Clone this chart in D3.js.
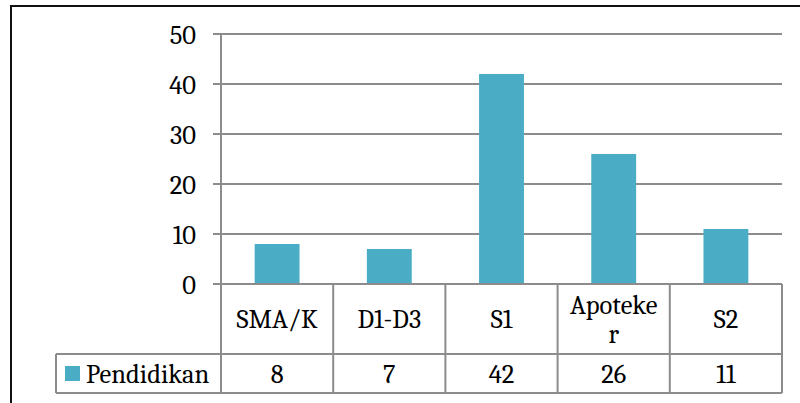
<!DOCTYPE html>
<html>
<head>
<meta charset="utf-8">
<script src="https://cdn.jsdelivr.net/npm/d3@7"></script>
<style>
  html, body { margin: 0; padding: 0; background: #fff; }
  svg { display: block; }
</style>
</head>
<body>
<svg id="chart" width="800" height="403"></svg>
<script>
// Education level of respondents
const categories = ["SMA/K", "D1-D3", "S1", "Apoteker", "S2"];
const categoryLines = [["SMA/K"], ["D1-D3"], ["S1"], ["Apoteke", "r"], ["S2"]];
const seriesName = "Pendidikan";
const values = [8, 7, 42, 26, 11];
const yTicks = [0, 10, 20, 30, 40, 50];

const W = 800, H = 403;
const plot = { left: 221, right: 782, top: 34, bottom: 284 };
const rowCat = { top: 284, bottom: 354 };
const rowVal = { top: 354, bottom: 393 };
const legendLeft = 56;
const barColor = "#4BACC6";
const lineColor = "#8c8c8c";
const fontFamily = "Cambria, 'Liberation Serif', serif";
const fontSize = 26.5;

const svg = d3.select("#chart")
  .attr("font-family", fontFamily)
  .attr("font-size", fontSize)
  .attr("fill", "#000");

// outer frame (right and bottom lie outside the view)
svg.append("path")
  .attr("d", `M11,${H + 5} V6 H${W + 5}`)
  .attr("fill", "none").attr("stroke", "#111").attr("stroke-width", 2);

const y = d3.scaleLinear().domain([0, 50]).range([plot.bottom, plot.top]);
const xCell = d3.scaleBand().domain(categories).range([plot.left, plot.right]).padding(0);
const xBar = d3.scaleBand().domain(categories).range([plot.left, plot.right])
  .paddingInner(0.6).paddingOuter(0.3);

// horizontal gridlines with left tick marks
svg.append("g").selectAll("line").data(yTicks).join("line")
  .attr("x1", plot.left - 8).attr("x2", plot.right)
  .attr("y1", d => y(d)).attr("y2", d => y(d))
  .attr("stroke", lineColor).attr("stroke-width", 2);

// y tick labels
svg.append("g").selectAll("text").data(yTicks).join("text")
  .attr("x", 196).attr("y", d => y(d) + 10)
  .attr("text-anchor", "end")
  .text(d => d);

// bars
svg.append("g").selectAll("rect").data(values).join("rect")
  .attr("x", (d, i) => xBar(categories[i]))
  .attr("width", xBar.bandwidth())
  .attr("y", d => y(d))
  .attr("height", d => y(0) - y(d))
  .attr("fill", barColor);

// data table grid
const grid = svg.append("g").attr("stroke", lineColor).attr("stroke-width", 2).attr("fill", "none");
grid.append("line").attr("x1", plot.left).attr("x2", plot.left)
  .attr("y1", plot.top).attr("y2", rowVal.bottom);
categories.forEach(c => {
  const xr = xCell(c) + xCell.bandwidth();
  grid.append("line").attr("x1", xr).attr("x2", xr)
    .attr("y1", rowCat.top).attr("y2", rowVal.bottom);
});
grid.append("line").attr("x1", plot.left - 8).attr("x2", plot.right)
  .attr("y1", rowCat.top).attr("y2", rowCat.top);
grid.append("line").attr("x1", legendLeft).attr("x2", plot.right)
  .attr("y1", rowVal.top).attr("y2", rowVal.top);
grid.append("line").attr("x1", legendLeft).attr("x2", plot.right)
  .attr("y1", rowVal.bottom).attr("y2", rowVal.bottom);
grid.append("line").attr("x1", legendLeft).attr("x2", legendLeft)
  .attr("y1", rowVal.top).attr("y2", rowVal.bottom);

// category labels
const catG = svg.append("g").attr("text-anchor", "middle");
categoryLines.forEach((lines, i) => {
  const cx = xCell(categories[i]) + xCell.bandwidth() / 2;
  const mid = (rowCat.top + rowCat.bottom) / 2;
  const lh = 29;
  const first = mid + 9 - (lines.length - 1) * lh / 2;
  lines.forEach((t, j) => {
    catG.append("text").attr("x", cx).attr("y", first + j * lh).text(t);
  });
});

// value row
svg.append("g").attr("text-anchor", "middle")
  .selectAll("text").data(values).join("text")
  .attr("x", (d, i) => xCell(categories[i]) + xCell.bandwidth() / 2)
  .attr("y", rowVal.bottom - 10)
  .text(d => d);

// legend key
svg.append("rect").attr("x", 65).attr("y", 366).attr("width", 15).attr("height", 15).attr("fill", barColor);
svg.append("text").attr("x", 86).attr("y", 383).text(seriesName);
</script>
</body>
</html>
